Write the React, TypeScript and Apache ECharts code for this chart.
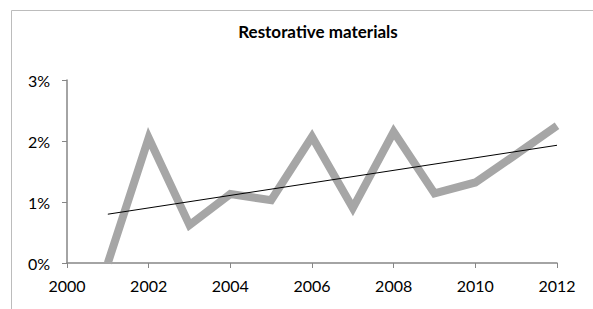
import React, { useEffect, useRef } from "react";
import * as echarts from "echarts";

const years = [2001, 2002, 2003, 2004, 2005, 2006, 2007, 2008, 2009, 2010, 2011, 2012];
const values = [0, 2.05, 0.62, 1.13, 1.03, 2.07, 0.9, 2.15, 1.14, 1.32, 1.78, 2.25];
const trendYears = [2001, 2012];
const trendValues = [0.8, 1.93];
const yTicks = [0, 1, 2, 3];
const title = "Restorative materials";

export default function App() {
  const ref = useRef<HTMLDivElement>(null);
  useEffect(() => {
    if (!ref.current) return;
    const chart = echarts.init(ref.current, undefined, { renderer: "svg" });
    const axisColor = "#868686";
    const font = "Lato, 'Noto Sans', sans-serif";
    chart.setOption({
      animation: false,
      backgroundColor: "#ffffff",
      title: {
        text: title,
        left: 313,
        textAlign: "center",
        top: 18,
        textStyle: { fontFamily: font, fontSize: 17, fontWeight: "bold", color: "#000" },
      },
      graphic: [
        {
          type: "rect",
          shape: { x: 11.5, y: 10.5, width: 640, height: 340 },
          style: { fill: "none", stroke: "#bcbcbc", lineWidth: 1 },
          silent: true,
        },
      ],
      grid: { left: 67, right: 36, top: 80, bottom: 46 },
      xAxis: {
        type: "value",
        min: 2000,
        max: 2012,
        interval: 2,
        splitLine: { show: false },
        axisLine: { show: true, lineStyle: { color: axisColor, width: 1.5 } },
        axisTick: { show: true, length: 5, lineStyle: { color: axisColor } },
        axisLabel: {
          formatter: (v: number) => String(v),
          fontFamily: font,
          fontSize: 16,
          color: "#000",
          margin: 14,
        },
      },
      yAxis: {
        type: "value",
        min: yTicks[0],
        max: yTicks[yTicks.length - 1],
        interval: 1,
        splitLine: { show: false },
        axisLine: { show: true, lineStyle: { color: axisColor, width: 1.5 } },
        axisTick: { show: true, length: 5, lineStyle: { color: axisColor } },
        axisLabel: {
          formatter: (v: number) => v + "%",
          fontFamily: font,
          fontSize: 16,
          color: "#000",
          margin: 17,
        },
      },
      series: [
        {
          type: "line",
          data: years.map((y, i) => [y, values[i]]),
          symbol: "none",
          lineStyle: { color: "#a6a6a6", width: 8, cap: "butt", join: "miter" },
          clip: true,
        },
        {
          type: "line",
          data: trendYears.map((y, i) => [y, trendValues[i]]),
          symbol: "none",
          lineStyle: { color: "#000", width: 1 },
        },
      ],
    });
    return () => chart.dispose();
  }, []);
  return (
    <div
      ref={ref}
      style={{ position: "absolute", left: 0, top: 0, width: 593, height: 309 }}
    />
  );
}
